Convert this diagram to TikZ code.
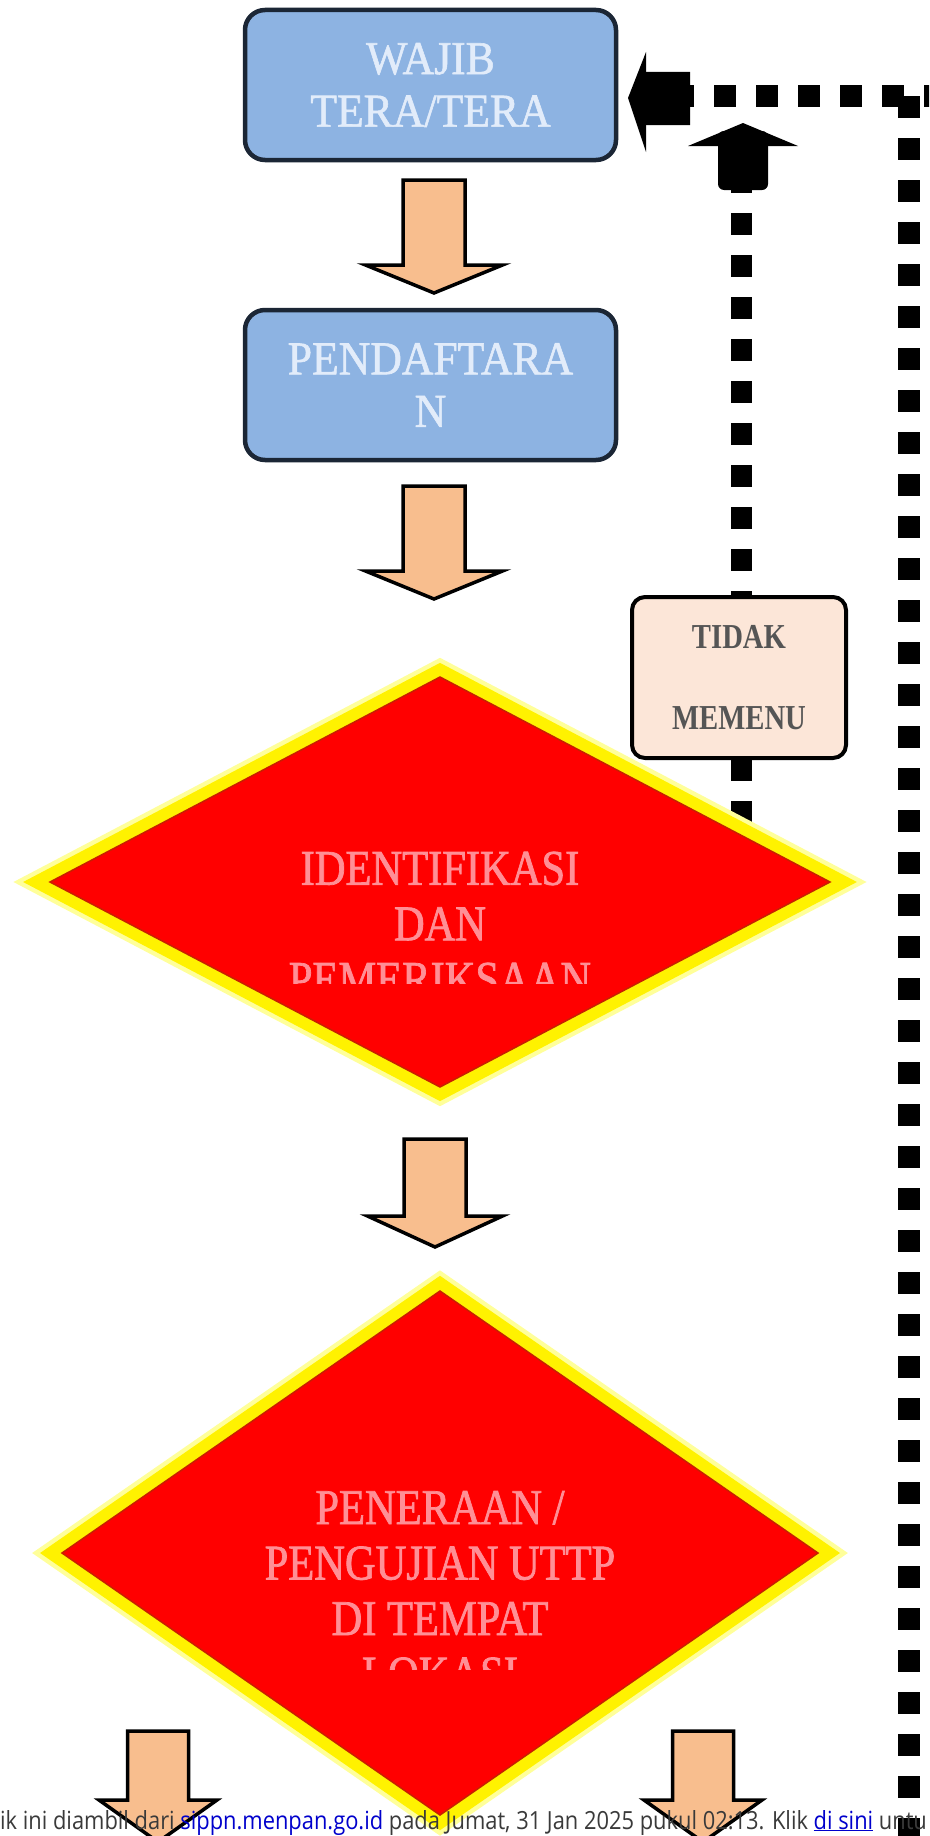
\documentclass[tikz,border=0pt]{standalone}
\usepackage{fontspec}
\setmainfont{Liberation Serif}
\newfontfamily\boxfont[FakeStretch=0.93,FakeBold=1.2]{Liberation Serif}
\newfontfamily\diafont[FakeStretch=0.85,FakeBold=1.4]{Liberation Serif}
\newfontfamily\tidakfont[FakeStretch=0.82]{Liberation Serif}
\newfontfamily\footfont[FakeStretch=0.875]{Open Sans}
\definecolor{boxblue}{HTML}{8DB3E2}
\definecolor{boxline}{HTML}{1B2635}
\definecolor{boxtext}{HTML}{E2ECFA}
\definecolor{arrowfill}{HTML}{F8BE8E}
\definecolor{tidakfill}{HTML}{FCE6D8}
\definecolor{tidaktext}{HTML}{555555}
\definecolor{diatext}{HTML}{FF8F96}
\definecolor{footgray}{HTML}{3A3A3A}
\definecolor{linkblue}{HTML}{0000CC}
\definecolor{glowyellow}{HTML}{FFFF9A}
\definecolor{rededge}{HTML}{C82000}
\tikzset{
  procbox/.style={draw=boxline, line width=4.5pt, fill=boxblue, rounded corners=20pt,
    minimum width=371pt, minimum height=150pt, inner sep=0pt,
    text=boxtext, font=\boxfont\fontsize{47}{52.5}\selectfont, align=center},
  tidakbox/.style={draw=black, line width=4pt, fill=tidakfill, rounded corners=13pt,
    minimum width=214pt, minimum height=161pt, inner sep=0pt,
    text=tidaktext, font=\tidakfont\bfseries\fontsize{35}{80.5}\selectfont, align=center},
  diatxt/.style={text=diatext, font=\diafont\fontsize{50}{55.5}\selectfont, align=center, inner sep=0pt},
  blockarr/.style={draw=black, line width=3.5pt, fill=arrowfill, line join=miter},
  dots/.style={draw=black, line width=22pt, dash pattern=on 22pt off 20pt},
}
\newcommand\blockarrow[6]{%
  \draw[blockarr] ({#1-#3/2},#2) -- ({#1+#3/2},#2) -- ({#1+#3/2},#4) -- ({#1+#5/2},#4)
    -- (#1,#6) -- ({#1-#5/2},#4) -- ({#1-#3/2},#4) -- cycle;}
\newcommand\bigdiamond[4]{%
  \path[draw=glowyellow, line width=34pt, line join=miter, miter limit=20]
    ({#1-#3},#2) -- (#1,{#2-#4}) -- ({#1+#3},#2) -- (#1,{#2+#4}) -- cycle;
  \path[draw=yellow, line width=25pt, line join=miter, miter limit=20]
    ({#1-#3},#2) -- (#1,{#2-#4}) -- ({#1+#3},#2) -- (#1,{#2+#4}) -- cycle;
  \path[fill=red, draw=rededge, line width=1.5pt, line join=miter, miter limit=20]
    ({#1-#3},#2) -- (#1,{#2-#4}) -- ({#1+#3},#2) -- (#1,{#2+#4}) -- cycle;}
\begin{document}
\begin{tikzpicture}[x=1pt,y=-1pt]
\useasboundingbox (0,0) rectangle (929,1836);
\fill[white] (0,0) rectangle (929,1836);
\begin{scope}
\clip (0,0) rectangle (929,1836);
% named points of the dotted return lines
\coordinate (lefthead) at (690,96);
\coordinate (corner) at (908.5,96);
\coordinate (offright) at (970,96);
\coordinate (offbottom) at (908.5,1870);
\coordinate (upfoot) at (741,171);
\coordinate (diaedge) at (741,830);
% dotted lines
\draw[dots, dash phase=18pt] (lefthead) -- (offright);
\draw[dots] (corner) -- (offbottom);
\draw[dots, line width=21pt] (upfoot) -- (diaedge);
% up arrow head
\fill (688,146) -- (743,123) -- (798,146) -- cycle;
\fill[rounded corners=6pt] (718,131) rectangle (768,190);
% left arrow head
\fill (646,52) -- (628,98) -- (646,152) -- cycle;
\fill (632,98) -- (645,72) -- (690,72) -- (690,125) -- (645,125) -- cycle;
% block arrows
\blockarrow{434}{180}{62}{265}{137}{293}
\blockarrow{434}{486}{62}{571}{137}{599}
\blockarrow{435}{1139}{62}{1216}{135}{1247}
\blockarrow{158}{1731}{61}{1800}{118}{1842}
\blockarrow{703}{1731}{61}{1800}{118}{1842}
% boxes
\node[procbox] (wajib) at (430.5,85) {WAJIB\\TERA/TERA};
\node[procbox] (daftar) at (430.5,385) {PENDAFTARA\\N};
% diamonds
\bigdiamond{440}{882}{390}{205}
\bigdiamond{440}{1553}{378}{262}
\begin{scope}
\clip (0,0) rectangle (929,983);
\node[diatxt] (ident) at (440,924) {IDENTIFIKASI\\DAN\\PEMERIKSAAN};
\end{scope}
\begin{scope}
\clip (0,0) rectangle (929,1669);
\node[diatxt] (tera) at (440,1591) {PENERAAN /\\PENGUJIAN UTTP\\DI TEMPAT\\LOKASI};
\end{scope}
% tidak memenuhi box
\node[tidakbox] (tidak) at (739,677.5) {TIDAK\\MEMENU};
% footer
\node[anchor=base west, inner sep=0pt, text=footgray, font=\footfont\fontsize{25}{30}\selectfont] (foot) at (0,1829)
  {ik ini diambil dari \textcolor{linkblue}{\underline{sippn.menpan.go.id}} pada Jumat, 31 Jan 2025 pukul 02:13. Klik \textcolor{linkblue}{\underline{di sini}} untu};
\end{scope}
\end{tikzpicture}
\end{document}
